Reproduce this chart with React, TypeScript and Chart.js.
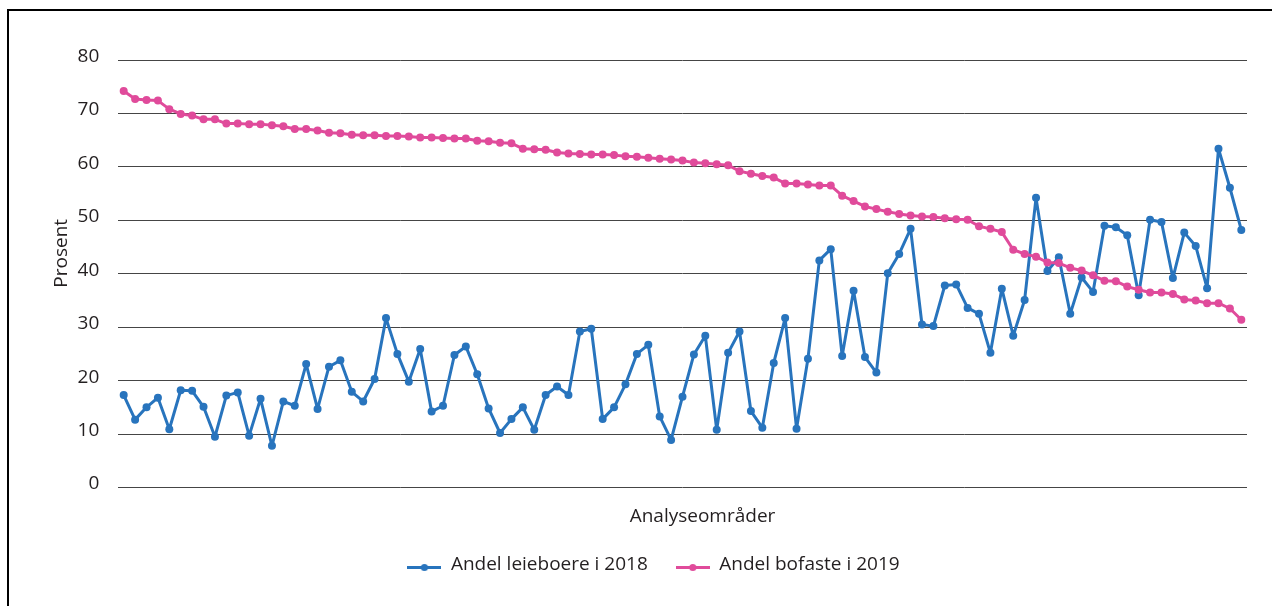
import React, { useEffect, useRef } from "react";
import { Chart, registerables } from "chart.js";

Chart.register(...registerables);

const SERIES_NAMES = ["Andel leieboere i 2018", "Andel bofaste i 2019"];
const X_TITLE = "Analyseområder";
const Y_TITLE = "Prosent";
const Y_MIN = 0;
const Y_MAX = 80;
const Y_STEP = 10;

const leieboere2018 = [
  17.3, 12.7, 15.0, 16.8, 10.9, 18.2, 18.1, 15.1, 9.5, 17.2,
  17.8, 9.7, 16.6, 7.8, 16.1, 15.3, 23.1, 14.7, 22.6, 23.8,
  17.9, 16.1, 20.3, 31.7, 25.0, 19.8, 25.9, 14.2, 15.3, 24.8,
  26.4, 21.2, 14.8, 10.2, 12.8, 15.0, 10.8, 17.3, 18.9, 17.3,
  29.2, 29.7, 12.8, 15.0, 19.3, 25.0, 26.7, 13.3, 8.9, 17.0,
  24.9, 28.4, 10.8, 25.2, 29.2, 14.3, 11.2, 23.3, 31.7, 11.0,
  24.1, 42.5, 44.6, 24.6, 36.8, 24.4, 21.5, 40.1, 43.7, 48.4,
  30.5, 30.2, 37.8, 38.0, 33.6, 32.5, 25.2, 37.2, 28.4, 35.1,
  54.2, 40.5, 43.1, 32.5, 39.3, 36.6, 49.0, 48.7, 47.2, 36.0,
  50.1, 49.7, 39.2, 47.7, 45.2, 37.3, 63.4, 56.1, 48.2,
];

const bofaste2019 = [
  74.2, 72.7, 72.5, 72.4, 70.8, 69.9, 69.6, 68.9, 68.9, 68.1,
  68.1, 68.0, 68.0, 67.8, 67.6, 67.1, 67.1, 66.8, 66.4, 66.3,
  66.0, 65.9, 65.9, 65.8, 65.8, 65.7, 65.5, 65.5, 65.4, 65.3,
  65.3, 64.9, 64.8, 64.5, 64.4, 63.4, 63.3, 63.2, 62.7, 62.5,
  62.4, 62.3, 62.3, 62.2, 62.0, 61.9, 61.7, 61.5, 61.4, 61.2,
  60.8, 60.7, 60.5, 60.3, 59.2, 58.7, 58.3, 58.0, 56.9, 56.9,
  56.7, 56.5, 56.5, 54.6, 53.6, 52.6, 52.1, 51.6, 51.2, 50.9,
  50.7, 50.6, 50.4, 50.2, 50.1, 48.9, 48.4, 47.8, 44.5, 43.7,
  43.2, 42.1, 42.0, 41.1, 40.6, 39.7, 38.7, 38.6, 37.6, 37.0,
  36.5, 36.5, 36.2, 35.2, 35.0, 34.5, 34.5, 33.5, 31.4,
];

const categories = leieboere2018.map((_, i) => `Område ${i + 1}`);

const BLUE = "#2874bd";
const PINK = "#e04b9b";
const TEXT = "#231f20";
const GRID = "#454545";
const FONT_FAMILY = "'Open Sans', 'Noto Sans', sans-serif";
const FONT_SIZE = 19;

const W = 1272;
const H = 606;

function makeLegendSample(color: string): HTMLCanvasElement {
  const c = document.createElement("canvas");
  c.width = 34;
  c.height = 16;
  const g = c.getContext("2d")!;
  g.strokeStyle = color;
  g.lineWidth = 3;
  g.beginPath();
  g.moveTo(0, 10.5);
  g.lineTo(34, 10.5);
  g.stroke();
  g.fillStyle = color;
  g.beginPath();
  g.arc(17, 10.5, 3.6, 0, Math.PI * 2);
  g.fill();
  return c;
}

const axisTitlesPlugin = {
  id: "axisTitles",
  afterDraw(chart: any) {
    const { ctx, chartArea } = chart;
    ctx.save();
    ctx.font = `${FONT_SIZE}px ${FONT_FAMILY}`;
    ctx.fillStyle = TEXT;
    ctx.textAlign = "center";
    ctx.textBaseline = "alphabetic";
    ctx.fillText(X_TITLE, (chartArea.left + chartArea.right) / 2 + 20, chartArea.bottom + 34.5);
    ctx.translate(chartArea.left - 51.5, (chartArea.top + chartArea.bottom) / 2 - 20.5);
    ctx.rotate(-Math.PI / 2);
    ctx.fillText(Y_TITLE, 0, 0);
    ctx.restore();
  },
};

export default function App() {
  const canvasRef = useRef<HTMLCanvasElement | null>(null);

  useEffect(() => {
    if (!canvasRef.current) return;
    const samples = [makeLegendSample(BLUE), makeLegendSample(PINK)];
    const chart = new Chart(canvasRef.current, {
      type: "line",
      data: {
        labels: categories,
        datasets: [
          {
            label: SERIES_NAMES[0],
            data: leieboere2018,
            borderColor: BLUE,
            backgroundColor: BLUE,
            pointBackgroundColor: BLUE,
            pointBorderWidth: 0,
            pointRadius: 4,
            borderWidth: 3,
            borderJoinStyle: "round",
            borderCapStyle: "round",
            tension: 0,
            order: 1,
          },
          {
            label: SERIES_NAMES[1],
            data: bofaste2019,
            borderColor: PINK,
            backgroundColor: PINK,
            pointBackgroundColor: PINK,
            pointBorderWidth: 0,
            pointRadius: 4,
            borderWidth: 3,
            borderJoinStyle: "round",
            borderCapStyle: "round",
            tension: 0,
            order: 0,
          },
        ],
      },
      options: {
        responsive: false,
        animation: false,
        devicePixelRatio: 1,
        layout: { padding: { left: 60, right: 25, top: 60, bottom: 21.5 } },
        font: { family: FONT_FAMILY, size: FONT_SIZE },
        color: TEXT,
        scales: {
          x: {
            type: "category",
            offset: true,
            ticks: { display: false },
            grid: { display: false },
            border: { display: false },
            afterFit: (scale: any) => {
              scale.height = 40;
            },
          },
          y: {
            min: Y_MIN,
            max: Y_MAX,
            ticks: {
              stepSize: Y_STEP,
              padding: 18.7,
              labelOffset: -3.5,
              color: TEXT,
              font: { family: FONT_FAMILY, size: FONT_SIZE },
            },
            grid: { color: GRID, lineWidth: 1, drawTicks: false },
            border: { display: false },
            afterFit: (scale: any) => {
              scale.width = 58;
            },
          },
        },
        plugins: {
          tooltip: { enabled: false },
          legend: {
            position: "bottom",
            labels: {
              usePointStyle: true,
              pointStyleWidth: 34,
              padding: 28,
              color: TEXT,
              font: { family: FONT_FAMILY, size: FONT_SIZE },
              sort: (a: any, b: any) => a.datasetIndex - b.datasetIndex,
              generateLabels: (ch: any) => {
                const items = (Chart as any).defaults.plugins.legend.labels.generateLabels(ch);
                return items.map((it: any) => ({ ...it, pointStyle: samples[it.datasetIndex] }));
              },
            },
          },
        },
      },
      plugins: [axisTitlesPlugin],
    } as any);
    return () => chart.destroy();
  }, []);

  return (
    <div style={{ position: "absolute", left: 0, top: 0, width: W, height: H, overflow: "hidden", background: "#fff" }}>
      <canvas ref={canvasRef} width={W} height={H} style={{ position: "absolute", left: 0, top: 0, width: W, height: H, display: "block" }} />
      <div
        style={{
          position: "absolute",
          left: 7,
          top: 9,
          width: W - 7,
          height: H - 9,
          boxSizing: "border-box",
          borderLeft: "2px solid #000",
          borderTop: "2px solid #000",
          pointerEvents: "none",
        }}
      />
    </div>
  );
}
